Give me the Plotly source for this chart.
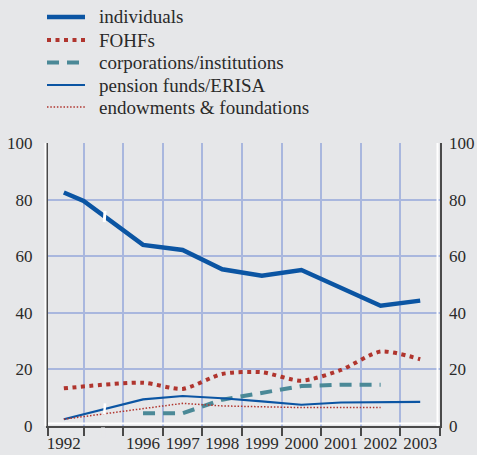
import numpy as np
import plotly.graph_objects as go

# x positions: 1992 | (1993-95 squeezed) | 1996 ... 2003
year_labels = ["1992", "1996", "1997", "1998", "1999", "2000", "2001", "2002", "2003"]
label_pos = [0, 2, 3, 4, 5, 6, 7, 8, 9]
cell_edges = [-0.4, 0.5, 1.5, 2.5, 3.5, 4.5, 5.5, 6.5, 7.5, 8.5, 9.5]

indiv_x = [0, 0.5, 2, 3, 4, 5, 6, 7, 8, 9]
indiv_y = [82.5, 79.5, 64.0, 62.2, 55.4, 53.1, 55.1, 48.8, 42.5, 44.3]

fohf_x = [0, 2, 3, 4, 5, 6, 7, 8, 9]
fohf_y = [13.3, 15.3, 13.1, 18.4, 19.0, 16.0, 19.8, 26.3, 23.6]

corp_x = [2, 3, 4, 5, 6, 7, 8]
corp_y = [4.5, 4.5, 9.3, 11.8, 14.1, 14.6, 14.6]

pension_x = [0, 2, 3, 4, 5, 6, 7, 8, 9]
pension_y = [2.4, 9.4, 10.6, 9.8, 8.7, 7.5, 8.3, 8.5, 8.5]

endow_x = [0, 2, 3, 4, 5, 6, 7, 8]
endow_y = [2.4, 6.0, 8.0, 7.1, 6.8, 6.5, 6.5, 6.5]

y_ticks = [0, 20, 40, 60, 80, 100]

BLUE = "#0b55a3"
RED = "#b0352e"
TEAL = "#4b8997"
BG = "#e6e7e9"
GRID = "#a9b7de"
AXIS = "#4a4a4a"
TXT = "#2a2a2a"
FONT = "Liberation Serif"

series = [
    ("individuals", indiv_x, indiv_y, dict(color=BLUE, width=4.5), "linear"),
    ("FOHFs", fohf_x, fohf_y, dict(color=RED, width=4, dash="4px,4.5px"), "spline"),
    ("corporations/institutions", corp_x, corp_y, dict(color=TEAL, width=4, dash="12px,8px"), "linear"),
    ("pension funds/ERISA", pension_x, pension_y, dict(color=BLUE, width=2.2), "linear"),
    ("endowments & foundations", endow_x, endow_y, dict(color=RED, width=1.5, dash="1.5px,1.8px"), "linear"),
]

fig = go.Figure()
for name, xs, ys, line, shape in series:
    fig.add_trace(go.Scatter(
        x=xs, y=ys, mode="lines", name=name,
        line=dict(shape=shape, smoothing=0.7, **line) if shape == "spline" else line,
        showlegend=False,
    ))

# dummy trace so the label axis is drawn
fig.add_trace(go.Scatter(x=[label_pos[0]], y=[0], xaxis="x2", yaxis="y2",
                         mode="markers", marker=dict(opacity=0), showlegend=False,
                         hoverinfo="skip"))

# axis-break cuts on the lines crossing the squeezed gap
brk = 1.03
for xs, ys, w in [(indiv_x, indiv_y, 3), (pension_x, pension_y, 2.5)]:
    yb = float(np.interp(brk, xs, ys))
    fig.add_shape(type="line", x0=brk - 0.01, x1=brk + 0.01, y0=yb - 2.0, y1=yb + 2.0,
                  line=dict(color="white", width=w))
fig.add_shape(type="line", xref="x", yref="paper", x0=brk - 0.04, x1=brk - 0.04,
              y0=-0.005, y1=-0.04, line=dict(color=BG, width=4))

# white highlights next to the dark axis lines
fig.add_shape(type="line", xref="paper", yref="paper", xsizemode="pixel", xanchor=0,
              x0=-2.5, x1=-2.5, y0=0, y1=1, line=dict(color="white", width=2))
fig.add_shape(type="line", xref="paper", yref="paper", xsizemode="pixel", xanchor=1,
              x0=-2.5, x1=-2.5, y0=0, y1=1, line=dict(color="white", width=2))
fig.add_shape(type="line", xref="paper", yref="paper", ysizemode="pixel", yanchor=0,
              y0=2.5, y1=2.5, x0=0, x1=1, line=dict(color="white", width=2))

# hand-made legend above the plot
W, H = 477, 455
L, R, T, B = 48, 37, 143, 29
pw, ph = W - L - R, H - T - B
row_y = [17, 40, 62.5, 85, 107]
for (name, xs, ys, line, shape), ry in zip(series, row_y):
    fig.add_shape(type="line", xref="paper", yref="paper",
                  xsizemode="pixel", xanchor=0, ysizemode="pixel", yanchor=1,
                  x0=-1, x1=37, y0=T - ry, y1=T - ry,
                  line=dict(color=line["color"], width=line["width"], dash=line.get("dash", "solid")))
    fig.add_annotation(xref="paper", yref="paper", x=(100 - L) / pw, y=(H - B - ry) / ph,
                       text=name, showarrow=False, xanchor="left", yanchor="middle",
                       xshift=-3, font=dict(family=FONT, size=19, color=TXT))

fig.update_layout(
    width=W, height=H,
    margin=dict(l=L, r=R, t=T, b=B),
    paper_bgcolor=BG, plot_bgcolor=BG,
    font=dict(family=FONT, size=17, color=TXT),
    xaxis=dict(range=[cell_edges[0], cell_edges[-1]], tickvals=cell_edges, automargin=False,
               ticktext=[""] * len(cell_edges), showgrid=True, gridcolor=GRID, gridwidth=1.5,
               zeroline=False, showline=True, linecolor=AXIS, linewidth=2,
               ticks="outside", ticklen=8, tickwidth=2, tickcolor=AXIS),
    xaxis2=dict(range=[cell_edges[0], cell_edges[-1]], overlaying="x", side="bottom",
                anchor="y", tickvals=label_pos, ticktext=year_labels, showgrid=False,
                zeroline=False, showline=False, ticks="", ticklabelstandoff=5, automargin=False,
                tickfont=dict(family=FONT, size=17, color=TXT)),
    yaxis=dict(range=[0, 100], tickvals=y_ticks, showgrid=True, gridcolor=GRID, gridwidth=1.5,
               zeroline=False, showline=True, mirror=True, linecolor=AXIS, linewidth=2,
               ticks="", ticklabelstandoff=10, automargin=False),
    yaxis2=dict(range=[0, 100], overlaying="y", side="right", anchor="x", tickvals=y_ticks,
                showgrid=False, zeroline=False, showline=False, ticks="", ticklabelstandoff=8,
                automargin=False, tickfont=dict(family=FONT, size=17, color=TXT)),
)

fig.write_html("out.html", config={"displayModeBar": False},
               post_script="document.body.style.margin='0';")
